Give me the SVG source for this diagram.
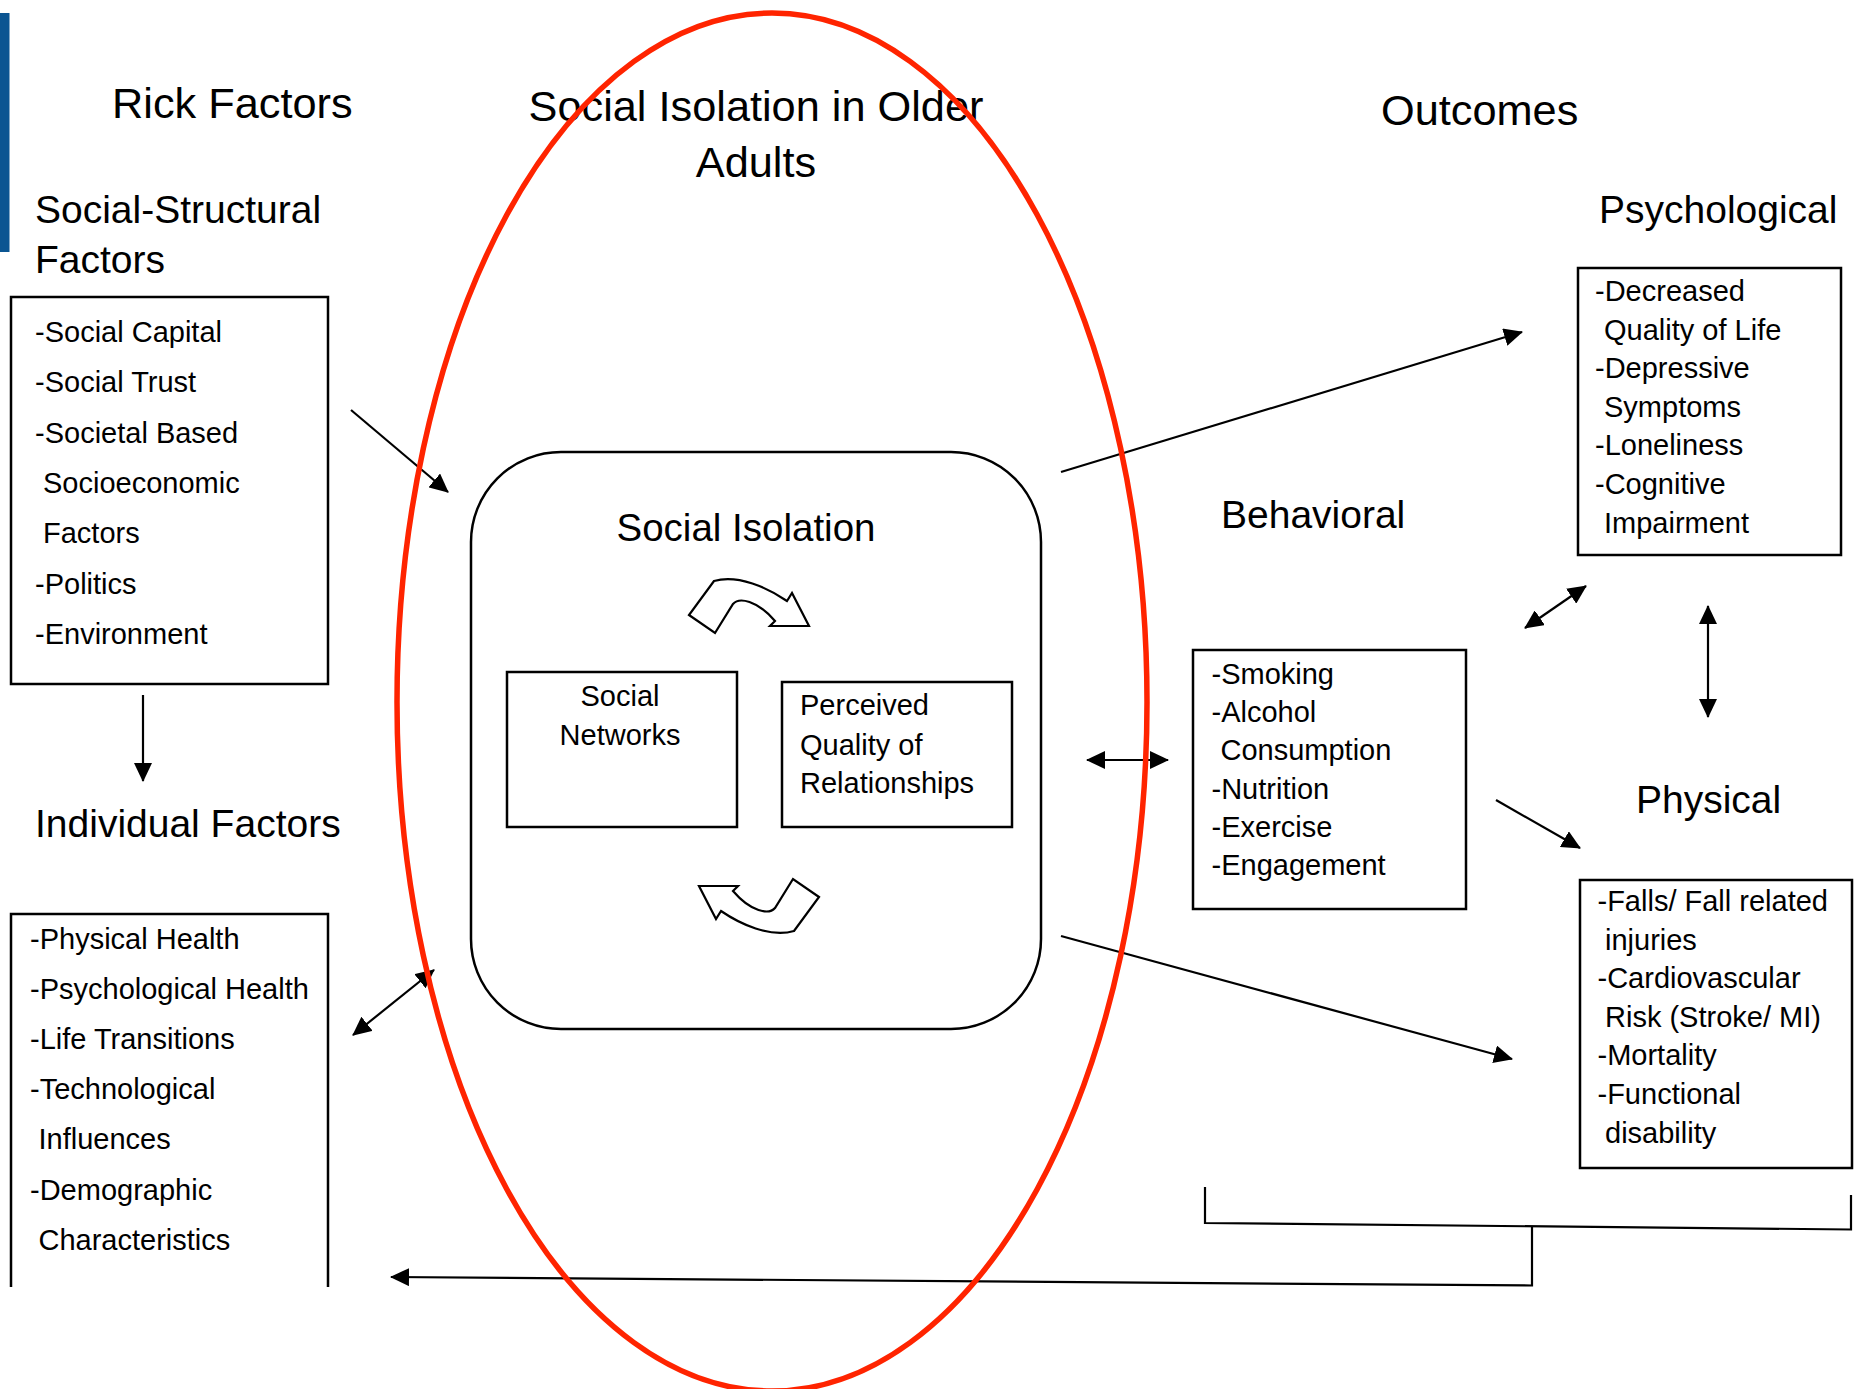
<svg xmlns="http://www.w3.org/2000/svg" xmlns:xlink="http://www.w3.org/1999/xlink" width="1856" height="1389" viewBox="0 0 1856 1389">
<style>
text{font-family:"Liberation Sans",Arial,sans-serif;fill:#000}
.h1{font-size:43.3px}
.h2{font-size:39px}
.it{font-size:29px}
.box{fill:none;stroke:#000;stroke-width:2.5}
.con{fill:none;stroke:#000;stroke-width:2.2}
.mid{text-anchor:middle}
</style>
<defs>
<marker id="ah" markerUnits="userSpaceOnUse" markerWidth="19" markerHeight="18" viewBox="0 0 19 18" refX="18" refY="9" orient="auto-start-reverse">
<path d="M0,0 L19,9 L0,18 z" fill="#000"/>
</marker>
<path id="curl" d="M689,615 L715,633 L733,604 C739,597 757,600 775,621 L770,626 L809,626 L792,593 L787,601 C768,588 738,574 714,581 Z" fill="#fff" stroke="#000" stroke-width="2.2" stroke-linejoin="miter"/>
</defs>
<rect width="1856" height="1389" fill="#fff"/>
<rect x="0" y="13" width="9.5" height="239" fill="#0b5592"/>

<g id="titles">
<text class="h1" x="112" y="118">Rick Factors</text>
<text class="h1 mid" x="756" y="121">Social Isolation in Older</text>
<text class="h1 mid" x="756" y="177">Adults</text>
<text class="h1" x="1381" y="125">Outcomes</text>
</g>

<g id="social-structural">
<text class="h2" x="35" y="223">Social-Structural</text>
<text class="h2" x="35" y="273">Factors</text>
<rect class="box" x="11" y="297" width="317" height="387"/>
<text class="it" x="35" y="341.5">-Social Capital</text>
<text class="it" x="35" y="392">-Social Trust</text>
<text class="it" x="35" y="442.5">-Societal Based</text>
<text class="it" x="43" y="493">Socioeconomic</text>
<text class="it" x="43" y="543">Factors</text>
<text class="it" x="35" y="593.5">-Politics</text>
<text class="it" x="35" y="644">-Environment</text>
</g>

<g id="individual">
<text class="h2" x="35" y="837">Individual Factors</text>
<path class="box" d="M11,1287 V914 H328 V1287"/>
<text class="it" x="30" y="948.5">-Physical Health</text>
<text class="it" x="30" y="998.7">-Psychological Health</text>
<text class="it" x="30" y="1048.9">-Life Transitions</text>
<text class="it" x="30" y="1099.1">-Technological</text>
<text class="it" x="38.5" y="1149.3">Influences</text>
<text class="it" x="30" y="1199.5">-Demographic</text>
<text class="it" x="38.5" y="1249.7">Characteristics</text>
</g>

<g id="social-isolation">
<rect class="box" x="471" y="452" width="570" height="577" rx="90" ry="90"/>
<text class="mid" x="746" y="541" style="font-size:38.5px">Social Isolation</text>
<use xlink:href="#curl"/>
<use xlink:href="#curl" transform="rotate(180 754 756)"/>
</g>

<g id="social-networks">
<rect class="box" x="507" y="672" width="230" height="155"/>
<text class="it mid" x="620" y="706">Social</text>
<text class="it mid" x="620" y="745">Networks</text>
</g>

<g id="perceived-quality">
<rect class="box" x="782" y="682" width="230" height="145"/>
<text class="it" x="800" y="715">Perceived</text>
<text class="it" x="800" y="754.5">Quality of</text>
<text class="it" x="800" y="793">Relationships</text>
</g>

<g id="psychological">
<text class="h2" x="1599" y="223">Psychological</text>
<rect class="box" x="1578" y="268" width="263" height="287"/>
<text class="it" x="1595" y="301">-Decreased</text>
<text class="it" x="1604" y="339.6">Quality of Life</text>
<text class="it" x="1595" y="378.2">-Depressive</text>
<text class="it" x="1604" y="416.8">Symptoms</text>
<text class="it" x="1595" y="455.4">-Loneliness</text>
<text class="it" x="1595" y="494">-Cognitive</text>
<text class="it" x="1604" y="532.6">Impairment</text>
</g>

<g id="behavioral">
<text class="h2" x="1221" y="528">Behavioral</text>
<rect class="box" x="1193" y="650" width="273" height="259"/>
<text class="it" x="1211.5" y="684">-Smoking</text>
<text class="it" x="1211.5" y="722.2">-Alcohol</text>
<text class="it" x="1220.5" y="760.4">Consumption</text>
<text class="it" x="1211.5" y="798.6">-Nutrition</text>
<text class="it" x="1211.5" y="836.8">-Exercise</text>
<text class="it" x="1211.5" y="875">-Engagement</text>
</g>

<g id="physical">
<text class="h2" x="1636" y="813">Physical</text>
<rect class="box" x="1580" y="880" width="272" height="288"/>
<text class="it" x="1597.5" y="911">-Falls/ Fall related</text>
<text class="it" x="1605" y="949.6">injuries</text>
<text class="it" x="1597.5" y="988.2">-Cardiovascular</text>
<text class="it" x="1605" y="1026.8">Risk (Stroke/ MI)</text>
<text class="it" x="1597.5" y="1065.4">-Mortality</text>
<text class="it" x="1597.5" y="1104">-Functional</text>
<text class="it" x="1605" y="1142.6">disability</text>
</g>

<g id="connectors">
<line class="con" x1="351" y1="410" x2="448" y2="492" marker-end="url(#ah)"/>
<line class="con" x1="143" y1="695" x2="143" y2="781" marker-end="url(#ah)"/>
<line class="con" x1="353" y1="1035" x2="434" y2="970" marker-start="url(#ah)" marker-end="url(#ah)"/>
<line class="con" x1="1061" y1="472" x2="1522" y2="332" marker-end="url(#ah)"/>
<line class="con" x1="1061" y1="936" x2="1512" y2="1059" marker-end="url(#ah)"/>
<line class="con" x1="1087" y1="760" x2="1168" y2="760" marker-start="url(#ah)" marker-end="url(#ah)"/>
<line class="con" x1="1525" y1="628" x2="1586" y2="586" marker-start="url(#ah)" marker-end="url(#ah)"/>
<line class="con" x1="1708" y1="606" x2="1708" y2="717" marker-start="url(#ah)" marker-end="url(#ah)"/>
<line class="con" x1="1496" y1="800" x2="1580" y2="848" marker-end="url(#ah)"/>
<path class="con" d="M1205,1187 V1223 L1851,1229.5 V1195"/>
<path class="con" d="M1532,1227 V1285.5 L391,1277" marker-end="url(#ah)"/>
</g>

<ellipse id="focus-ellipse" cx="772" cy="702" rx="375" ry="689" fill="none" stroke="#ff2400" stroke-width="5.5"/>
</svg>
